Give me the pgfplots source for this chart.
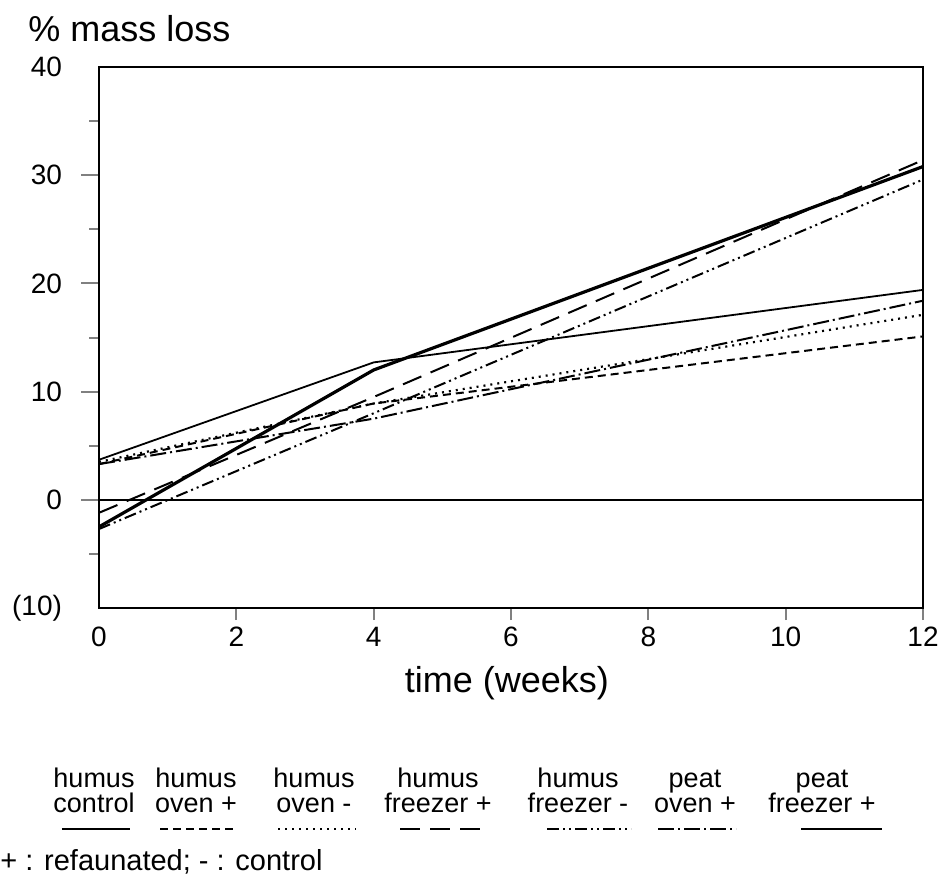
\documentclass[border=0pt]{standalone}
\usepackage{fontspec}
\setmainfont{Liberation Sans}
\usepackage{pgfplots}
\pgfplotsset{compat=1.18}

\tikzset{
  hcontrol/.style={black, line width=1.6pt},
  hovenp/.style={black, line width=1pt, dash pattern=on 4pt off 2.5pt},
  hovenm/.style={black, line width=1.1pt, dash pattern=on 1pt off 2.5pt},
  hfreezp/.style={black, line width=1pt, dash pattern=on 10pt off 5pt},
  hfreezm/.style={black, line width=1pt, dash pattern=on 6pt off 2pt on 1pt off 2pt on 1pt off 2pt},
  povenp/.style={black, line width=1pt, dash pattern=on 8pt off 2pt on 1pt off 2pt},
  pfreezp/.style={black, line width=0.9pt},
}

\begin{document}
\begin{tikzpicture}
\useasboundingbox (-49.5pt,-140pt) rectangle (421pt,304pt);
\begin{axis}[
    at={(0pt,0pt)}, anchor=south west,
    scale only axis,
    width=412pt, height=270.5pt,
    xmin=0, xmax=12, ymin=-10, ymax=40,
    axis line style={line width=1pt},
    tick align=outside,
    xtick pos=bottom, ytick pos=left,
    xtick={2,4,...,12}, xticklabels={2,4,6,8,10,12},
    ytick={0,10,20,30}, yticklabels={0,10,20,30},
    minor ytick={-5,5,15,25,35},
    extra x ticks={0}, extra x tick labels={0},
    extra x tick style={xtick style={/pgfplots/major tick length=6pt, draw=none}},
    extra y ticks={-10,40}, extra y tick labels={(10),40},
    extra y tick style={ytick style={draw=none}},
    major tick length=9pt, minor tick length=5pt,
    xtick style={/pgfplots/major tick length=6pt, line width=1pt},
    ytick style={line width=1pt},
    minor tick style={line width=1pt},
    ticklabel style={font=\fontsize{14}{16}\selectfont},
    xticklabel style={yshift=3pt},
    yticklabel style={xshift=-6pt},
    xlabel={time (weeks)},
    xlabel style={font=\fontsize{18}{20}\selectfont, at={(axis description cs:0.495,0)}, anchor=base, yshift=-42pt},
]
\addplot[black, line width=0.7pt] coordinates {(0,0) (12,0)};
\addplot[hcontrol] coordinates {(0,-2.5) (4,12.0) (12,30.8)};
\addplot[hovenp]   coordinates {(0,3.3) (4,8.9) (12,15.1)};
\addplot[hovenm]   coordinates {(0,3.5) (4,8.9) (12,17.1)};
\addplot[hfreezp]  coordinates {(0,-1.2) (4,9.5) (12,31.4)};
\addplot[hfreezm]  coordinates {(0,-2.7) (4,8.0) (12,29.6)};
\addplot[povenp]   coordinates {(0,3.3) (4,7.5) (12,18.4)};
\addplot[pfreezp]  coordinates {(0,3.7) (4,12.7) (12,19.4)};
\end{axis}

\begin{scope}[x=0.5pt, y=-0.5pt, shift={(-49.5pt,304pt)}]
\node[anchor=base west, font=\fontsize{18}{20}\selectfont, inner sep=0pt] at (28,42) {\% mass loss};
\begin{scope}[font=\fontsize{13.5}{15}\selectfont]
\node[anchor=base] at (94,787) {humus};
\node[anchor=base] at (94,812) {control};
\draw[hcontrol, line width=1.2pt] (62,829) -- (130,829);
\node[anchor=base] at (196,787) {humus};
\node[anchor=base] at (196,812) {oven +};
\draw[hovenp] (160,829) -- (234,829);
\node[anchor=base] at (314,787) {humus};
\node[anchor=base] at (314,812) {oven -};
\draw[hovenm] (278,829) -- (356,829);
\node[anchor=base] at (438,787) {humus};
\node[anchor=base] at (438,812) {freezer +};
\draw[hfreezp] (400,829) -- (480,829);
\node[anchor=base] at (578,787) {humus};
\node[anchor=base] at (578,812) {freezer -};
\draw[hfreezm] (547,829) -- (631,829);
\node[anchor=base] at (695,787) {peat};
\node[anchor=base] at (695,812) {oven +};
\draw[povenp] (658,829) -- (736,829);
\node[anchor=base] at (822,787) {peat};
\node[anchor=base] at (822,812) {freezer +};
\draw[pfreezp] (801,829) -- (882,829);
\node[anchor=base west, inner sep=0pt, font=\fontsize{14.5}{16}\selectfont] at (0,870) {+ : refaunated; - : control};
\end{scope}
\end{scope}
\end{tikzpicture}
\end{document}
